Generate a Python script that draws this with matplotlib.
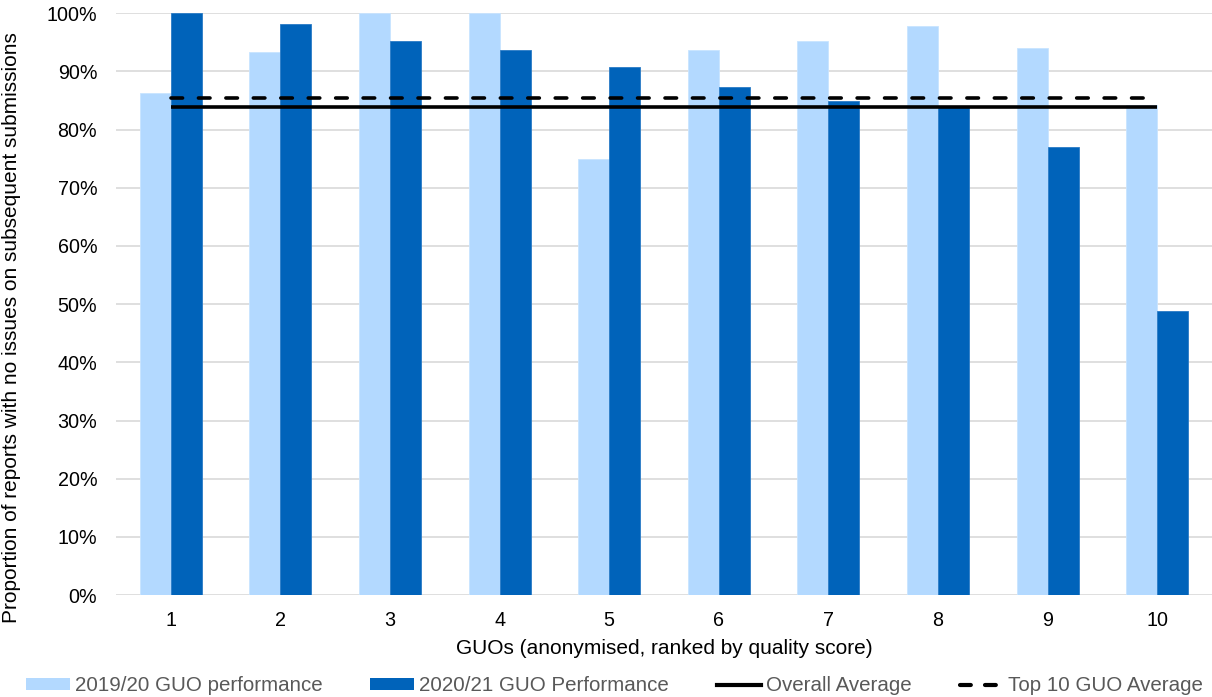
import matplotlib
matplotlib.use("Agg")
import matplotlib.pyplot as plt
import numpy as np
from matplotlib.lines import Line2D
from matplotlib.patches import Patch

plt.rcParams["font.family"] = ["Liberation Sans", "DejaVu Sans"]

# GUOs ranked by quality score, share of reports with no issues
guos = [1, 2, 3, 4, 5, 6, 7, 8, 9, 10]
perf_1920 = [0.863, 0.934, 1.000, 1.000, 0.749, 0.937, 0.953, 0.978, 0.940, 0.843]
perf_2021 = [1.000, 0.981, 0.953, 0.937, 0.908, 0.874, 0.850, 0.840, 0.771, 0.488]
overall_avg = 0.839
top10_avg = 0.854

series_names = ["2019/20 GUO performance", "2020/21 GUO Performance",
                "Overall Average", "Top 10 GUO Average"]
light_blue = "#B3D9FF"
dark_blue = "#0063BA"
grid_grey = "#D9D9D9"
legend_grey = "#595959"
tick_fs = 14.2
label_fs = 15
legend_fs = 14.8

fig = plt.figure(figsize=(12.12, 6.97), dpi=100)
ax = fig.add_axes([0.0957, 0.1463, 0.9043, 0.8346])

x = np.array(guos, dtype=float)
w = 0.283
ax.bar(x - w / 2, perf_1920, w, color=light_blue, edgecolor="#C8E4FF",
       linewidth=0.6, zorder=2)
ax.bar(x + w / 2, perf_2021, w, color=dark_blue, edgecolor="#2A7BC6",
       linewidth=0.6, zorder=2)

line_kw = dict(color="black", linewidth=2.6, zorder=4)
ax.hlines(overall_avg, guos[0], guos[-1], **line_kw)
dashed = Line2D([guos[0], guos[-1]], [top10_avg, top10_avg],
                dash_capstyle="round", **line_kw)
dashed.set_dashes((3.2, 4.4))
ax.add_line(dashed)

ax.set_xlim(0.5, 10.5)
ax.set_ylim(0, 1.0)
yticks = np.arange(0, 1.01, 0.1)
ax.set_yticks(yticks)
ax.set_yticklabels([f"{int(round(t * 100))}%" for t in yticks])
ax.set_xticks(guos)
ax.set_xticklabels([str(g) for g in guos])
ax.tick_params(axis="both", length=0, labelsize=tick_fs, colors="black")
ax.tick_params(axis="x", pad=11.5)
ax.tick_params(axis="y", pad=13.5)

ax.grid(axis="y", color=grid_grey, linewidth=1.2, zorder=0)
ax.set_axisbelow(True)
for side in ["top", "right", "left", "bottom"]:
    ax.spines[side].set_visible(False)

ax.set_xlabel("GUOs (anonymised, ranked by quality score)", fontsize=label_fs)
ax.xaxis.set_label_coords(0.5, -0.092)
ax.xaxis.label.set_va("center")
ax.set_ylabel("Proportion of reports with no issues on subsequent submissions",
              fontsize=label_fs)
ax.yaxis.set_label_coords(-0.095, 0.46)
ax.yaxis.label.set_va("center")

handles = [
    Patch(facecolor=light_blue, edgecolor="none"),
    Patch(facecolor=dark_blue, edgecolor="none"),
    Line2D([], [], color="black", linewidth=3),
    Line2D([], [], color="black", linewidth=3, dashes=(2.6, 3.4),
           dash_capstyle="round"),
]
leg = fig.legend(handles, series_names, ncol=4, frameon=False,
                 loc="center left", bbox_to_anchor=(0.0215, 0.0158),
                 fontsize=legend_fs, handlelength=2.14, handleheight=0.53,
                 handletextpad=0.24, columnspacing=2.33, borderpad=0,
                 borderaxespad=0)
for t in leg.get_texts():
    t.set_color(legend_grey)

fig.savefig("out.png", dpi=100)
